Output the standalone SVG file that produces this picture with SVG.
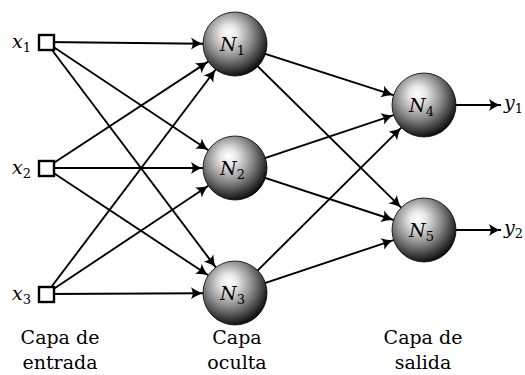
<svg xmlns="http://www.w3.org/2000/svg" width="525" height="375" viewBox="0 0 525 375">
<defs>
<radialGradient id="ball" cx="0.42" cy="0.38" r="0.66" fx="0.4" fy="0.32">
<stop offset="0" stop-color="#ffffff"/>
<stop offset="0.2" stop-color="#e6e6e6"/>
<stop offset="0.55" stop-color="#8a8a8a"/>
<stop offset="0.82" stop-color="#383838"/>
<stop offset="1" stop-color="#000000"/>
</radialGradient>
<marker id="arr" markerUnits="userSpaceOnUse" markerWidth="16" markerHeight="14" viewBox="-13 -7 15 14" refX="0" refY="0" orient="auto">
<path d="M-12,-6 Q-5,-1.2 0,0 Q-5,1.2 -12,6 Q-8.5,0 -12,-6 Z" fill="#000"/>
</marker>
</defs>
<style>
.c line{stroke:#000;stroke-width:1.9;fill:none;marker-end:url(#arr)}
.sq{fill:#fff;stroke:#000;stroke-width:2.4}
.ball{fill:url(#ball);stroke:#000;stroke-width:0.8}
</style>
<g id="connectors" class="c">
<line x1="46" y1="42" x2="203" y2="43.7"/>
<line x1="46" y1="42" x2="208.4" y2="150.2"/>
<line x1="46" y1="42" x2="215.8" y2="267.4"/>
<line x1="46" y1="168" x2="208.2" y2="61.6"/>
<line x1="46" y1="168" x2="203" y2="168"/>
<line x1="46" y1="168" x2="208.3" y2="275.3"/>
<line x1="46" y1="294" x2="215.7" y2="69.5"/>
<line x1="46" y1="294" x2="208.4" y2="185.8"/>
<line x1="46" y1="294" x2="203" y2="293.2"/>
<line x1="235" y1="44" x2="393.5" y2="95.2"/>
<line x1="235" y1="44" x2="401.2" y2="207.6"/>
<line x1="235" y1="168" x2="393.6" y2="115.1"/>
<line x1="235" y1="168" x2="393.6" y2="220"/>
<line x1="235" y1="293" x2="401.3" y2="127.6"/>
<line x1="235" y1="293" x2="393.6" y2="240.1"/>
<line x1="456" y1="105" x2="501" y2="105"/>
<line x1="456" y1="230" x2="501" y2="230"/>
</g>
<g id="x1"><rect class="sq" x="39" y="35" width="15" height="15"/><text font-family="DejaVu Serif" font-style="italic" font-size="19" x="12" y="48">x<tspan font-style="normal" font-size="13" dy="4">1</tspan></text></g>
<g id="x2"><rect class="sq" x="39" y="161" width="15" height="15"/><text font-family="DejaVu Serif" font-style="italic" font-size="19" x="12" y="174">x<tspan font-style="normal" font-size="13" dy="4">2</tspan></text></g>
<g id="x3"><rect class="sq" x="39" y="287" width="15" height="15"/><text font-family="DejaVu Serif" font-style="italic" font-size="19" x="12" y="300">x<tspan font-style="normal" font-size="13" dy="4">3</tspan></text></g>
<g id="N1"><circle class="ball" cx="235" cy="44" r="32"/><text font-family="DejaVu Serif" font-style="italic" font-size="19" x="220" y="51">N<tspan font-style="normal" font-size="13" dy="4">1</tspan></text></g>
<g id="N2"><circle class="ball" cx="235" cy="168" r="32"/><text font-family="DejaVu Serif" font-style="italic" font-size="19" x="220" y="175">N<tspan font-style="normal" font-size="13" dy="4">2</tspan></text></g>
<g id="N3"><circle class="ball" cx="235" cy="293" r="32"/><text font-family="DejaVu Serif" font-style="italic" font-size="19" x="220" y="300">N<tspan font-style="normal" font-size="13" dy="4">3</tspan></text></g>
<g id="N4"><circle class="ball" cx="424" cy="105" r="32"/><text font-family="DejaVu Serif" font-style="italic" font-size="19" x="409" y="112">N<tspan font-style="normal" font-size="13" dy="4">4</tspan></text></g>
<g id="N5"><circle class="ball" cx="424" cy="230" r="32"/><text font-family="DejaVu Serif" font-style="italic" font-size="19" x="409" y="237">N<tspan font-style="normal" font-size="13" dy="4">5</tspan></text></g>
<g id="y1"><text font-family="DejaVu Serif" font-style="italic" font-size="19" x="504" y="109">y<tspan font-style="normal" font-size="13" dy="4">1</tspan></text></g>
<g id="y2"><text font-family="DejaVu Serif" font-style="italic" font-size="19" x="504" y="234">y<tspan font-style="normal" font-size="13" dy="4">2</tspan></text></g>
<g id="captions">
<text font-family="DejaVu Serif" font-size="19" text-anchor="middle" x="60" y="344">Capa de</text>
<text font-family="DejaVu Serif" font-size="19" text-anchor="middle" x="60" y="369">entrada</text>
<text font-family="DejaVu Serif" font-size="19" text-anchor="middle" x="237" y="344">Capa</text>
<text font-family="DejaVu Serif" font-size="19" text-anchor="middle" x="237" y="369">oculta</text>
<text font-family="DejaVu Serif" font-size="19" text-anchor="middle" x="423" y="344">Capa de</text>
<text font-family="DejaVu Serif" font-size="19" text-anchor="middle" x="423" y="369">salida</text>
</g>
</svg>
